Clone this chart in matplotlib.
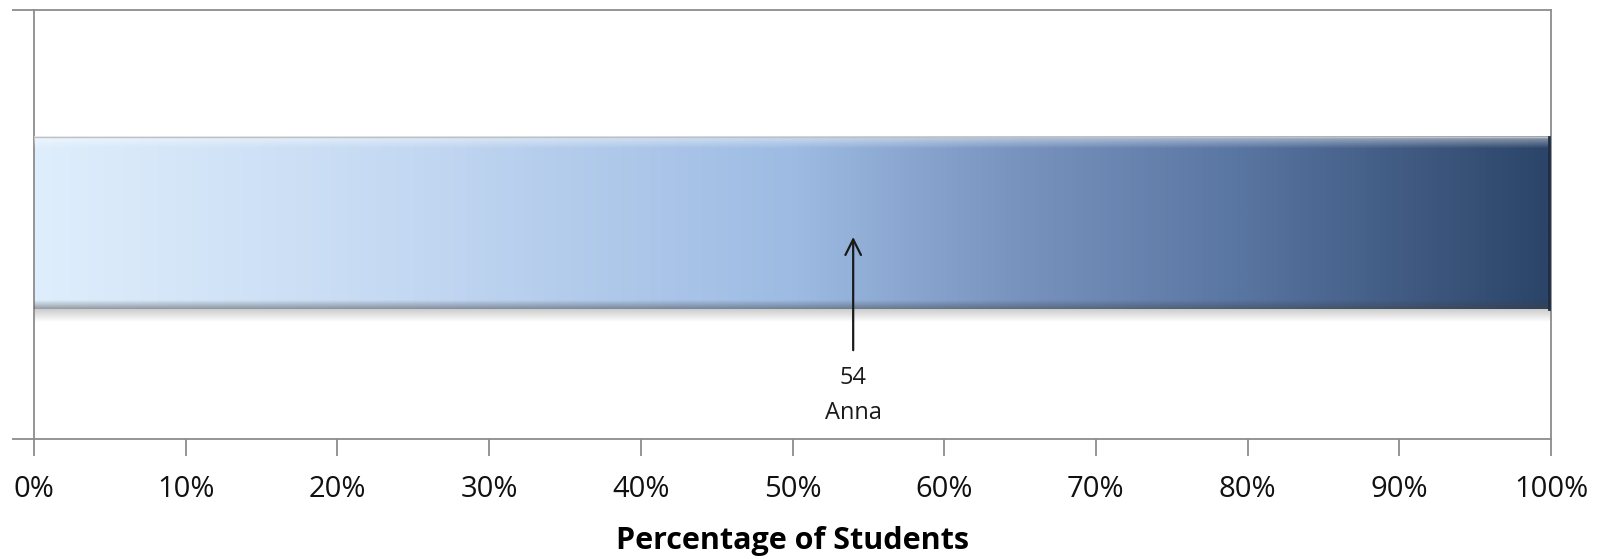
import matplotlib
matplotlib.use("Agg")
import matplotlib.pyplot as plt
from matplotlib.colors import LinearSegmentedColormap
import numpy as np

plt.rcParams['font.family'] = ['Open Sans', 'DejaVu Sans']

# data
student_name = "Anna"
student_pct = 54
bar_start = 0
bar_end = 100
tick_values = [0, 10, 20, 30, 40, 50, 60, 70, 80, 90, 100]
tick_labels = [f"{v}%" for v in tick_values]

fig = plt.figure(figsize=(16.05, 5.59), dpi=100)
ax = fig.add_axes([34 / 1605, 1 - 439 / 559, (1551 - 34) / 1605, (439 - 10) / 559])
ax.set_xlim(0, 100)
ax.set_ylim(0, 1)

# gradient bar
cmap = LinearSegmentedColormap.from_list("bar", [
    (0.0, "#dfeefc"), (0.25, "#c3d8f2"), (0.5, "#9dbbe3"),
    (0.65, "#7893be"), (0.8, "#5874a0"), (1.0, "#2b4468")])
y0, y1 = 0.303, 0.704
grad = np.linspace(0, 1, 512).reshape(1, -1)
ax.imshow(grad, cmap=cmap, aspect="auto", extent=(bar_start, bar_end, y0, y1),
          zorder=2, interpolation="bilinear")

# bevel: highlight at top, darker band at bottom (rows run top -> bottom)
v = np.linspace(1, 0, 200)
shade = np.zeros((200, 1, 4))
shade[:, 0, :3] = 1.0
shade[:, 0, 3] = np.clip((v - 0.93) / 0.07, 0, 1) * 0.5
ax.imshow(shade, aspect="auto", extent=(bar_start, bar_end, y0, y1), zorder=3)
dark = np.zeros((200, 1, 4))
dark[:, 0, :3] = 0.25
dark[:, 0, 3] = np.clip((0.05 - v) / 0.05, 0, 1) * 0.45
ax.imshow(dark, aspect="auto", extent=(bar_start, bar_end, y0, y1), zorder=3)

# soft shadow under the bar
sh = np.zeros((60, 1, 4))
sh[:, 0, :3] = 0.5
sh[:, 0, 3] = np.linspace(0.4, 0.0, 60)
ax.imshow(sh, aspect="auto", extent=(bar_start, bar_end, y0 - 0.03, y0), zorder=1)
ax.plot([bar_start, bar_end], [y1, y1], color="#c0c0c0", lw=1, zorder=4)
ax.plot([bar_end - 0.1, bar_end - 0.1], [y0, y1], color="#1e2e45", lw=2, zorder=4)

# arrow marking the student
ax.annotate("", xy=(student_pct, 0.471), xytext=(student_pct, 0.207),
            arrowprops=dict(arrowstyle="->", color="#1a1a1a", lw=1.6,
                            mutation_scale=28, shrinkA=0, shrinkB=0), zorder=5)
ax.text(student_pct, 0.142, str(student_pct), ha="center", va="center", fontsize=17, color="#1a1a1a")
ax.text(student_pct, 0.06, student_name, ha="center", va="center", fontsize=17, color="#1a1a1a")

# axes styling
for s in ax.spines.values():
    s.set_color("#8c8c8c")
    s.set_linewidth(1.3)
ax.set_xticks(tick_values)
ax.set_xticklabels(tick_labels, fontsize=21, color="#111111")
ax.tick_params(axis="x", length=12, width=1.3, color="#8c8c8c", pad=14)
ax.set_yticks([0, 1])
ax.set_yticklabels([])
ax.tick_params(axis="y", length=16, width=1.3, color="#8c8c8c")
ax.set_xlabel("Percentage of Students", fontsize=22, fontweight="bold", labelpad=16)

fig.savefig("out.png", dpi=100)
